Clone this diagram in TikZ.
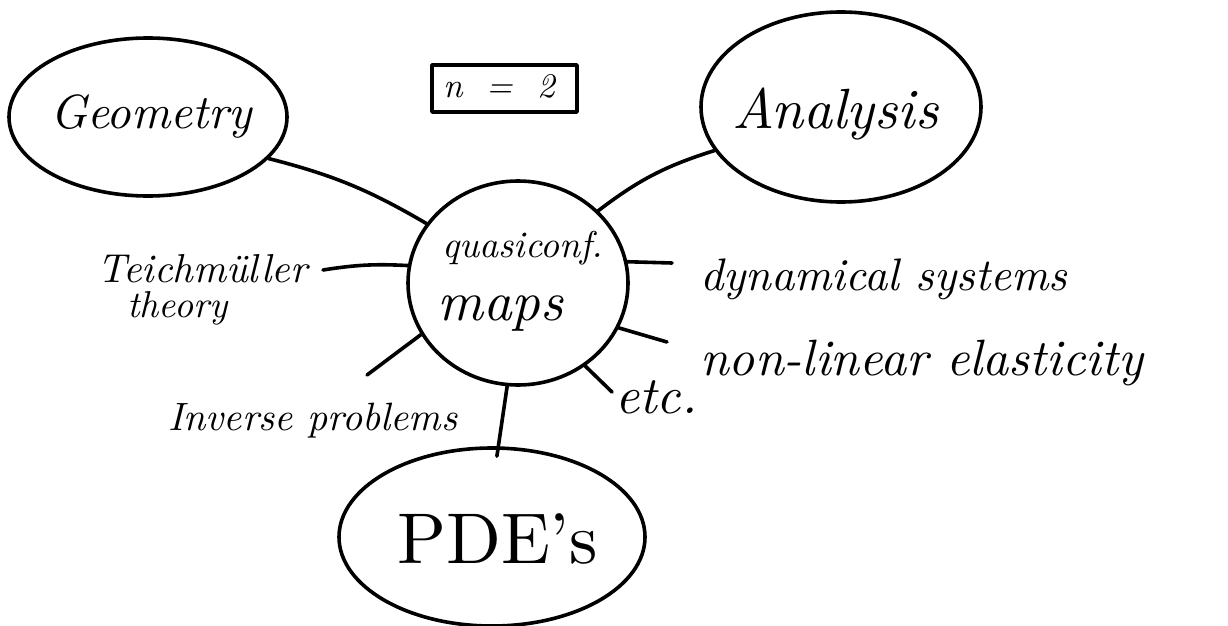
\documentclass[tikz,border=0pt]{standalone}
\usepackage{fontspec}
\usepackage{graphicx}
\usetikzlibrary{shapes.geometric}
\newcommand{\hw}[2]{\resizebox{#1pt}{!}{\itshape #2}}
\begin{document}
\begin{tikzpicture}[x=1pt,y=-1pt,
  stroke/.style={line width=3.6pt, line cap=round, line join=round},
  blob/.style={ellipse, draw, stroke, inner sep=0pt},
  lbl/.style={anchor=base west, inner sep=0pt},
]
\useasboundingbox (0,0) rectangle (1228,626);
% main shapes
\node[blob, minimum width=278, minimum height=158] (geo) at (148,117) {};
\node[blob, minimum width=280, minimum height=190] (ana) at (841,107) {};
\node[blob, minimum width=220, minimum height=204] (qc) at (518,283) {};
\node[blob, minimum width=306, minimum height=178] (pde) at (492,537) {};
\node[draw, stroke, rectangle, minimum width=145, minimum height=47, inner sep=0pt] (box) at (504.5,88.5) {};
\node[anchor=base, inner sep=0pt] (tbox) at (499,97)
      {\hw{112}{n\hspace{0.7em}=\hspace{0.7em}2}};
% labels
\node[lbl] (tgeo) at (50,128) {\hw{202}{Geometry}};
\node[lbl] (tana) at (732,128) {\hw{206}{Analysis}};
\node[lbl] (tqc1) at (442,257) {\hw{161}{quasiconf.}};
\node[lbl] (tqc2) at (437,320) {\hw{126}{maps}};
\node[lbl] (tteich) at (97,282) {\hw{210}{Teichmüller}};
\node[lbl] (ttheory) at (127,317) {\hw{100}{theory}};
\node[lbl] (tdyn) at (700,290) {\hw{367}{dynamical systems}};
\node[lbl] (tnle) at (700,375) {\hw{443}{non-linear elasticity}};
\node[lbl] (tinv) at (168,430) {\hw{289}{Inverse problems}};
\node[lbl] (tetc) at (615,413) {\hw{82}{etc.}};
\node[lbl] (tpde) at (397,563) {\resizebox{201pt}{!}{PDE's}};
% free ends
\coordinate (teichE) at (323,270);
\coordinate (dynE) at (672,263);
\coordinate (nleE) at (667,342);
\coordinate (etcE) at (612,392);
\coordinate (invE) at (367,375);
% connectors
\draw[stroke] (geo.-19) to[bend left=8] (qc.147);
\draw[stroke] (ana.199) to[bend right=10] (qc.42);
\draw[stroke] (teichE) to[bend left=6] (qc.171);
\draw[stroke] (qc.11) -- (dynE);
\draw[stroke] (qc.-24) -- (nleE);
\draw[stroke] (qc.-51) -- (etcE);
\draw[stroke] (qc.208) -- (invE);
\draw[stroke, shorten >=-10pt] (qc.264) -- (pde.86);
\end{tikzpicture}
\end{document}
